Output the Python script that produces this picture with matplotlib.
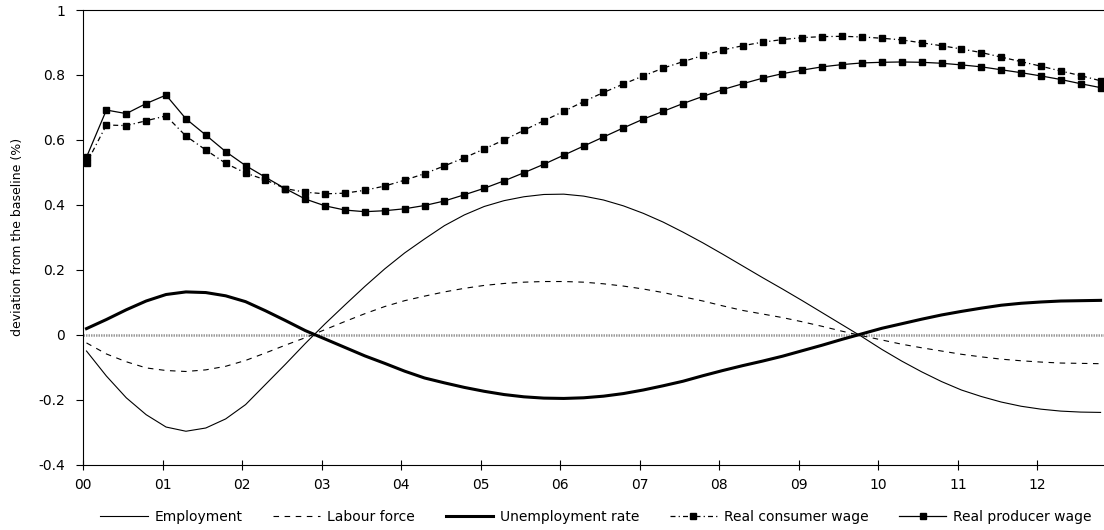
import numpy as np
import matplotlib
matplotlib.use("Agg")
import matplotlib.pyplot as plt

plt.rcParams['font.family'] = ['DejaVu Sans']

# ---- data (quarterly, 2000Q1 .. 2012Q4) ----
year_labels = ["00", "01", "02", "03", "04", "05", "06", "07", "08", "09", "10", "11", "12"]

employment = [-0.050, -0.127, -0.194, -0.246, -0.284, -0.297, -0.287, -0.259, -0.215, -0.153,
              -0.091, -0.027, 0.034, 0.092, 0.149, 0.203, 0.252, 0.295, 0.336, 0.369,
              0.395, 0.413, 0.425, 0.432, 0.433, 0.427, 0.415, 0.397, 0.374, 0.347,
              0.316, 0.283, 0.248, 0.212, 0.176, 0.141, 0.105, 0.068, 0.031, -0.006,
              -0.045, -0.081, -0.114, -0.144, -0.170, -0.190, -0.207, -0.220, -0.229, -0.235,
              -0.238, -0.239]

labour_force = [-0.025, -0.059, -0.083, -0.102, -0.110, -0.113, -0.108, -0.097, -0.079, -0.056,
                -0.032, -0.009, 0.016, 0.041, 0.065, 0.087, 0.105, 0.119, 0.132, 0.143,
                0.152, 0.158, 0.162, 0.164, 0.164, 0.162, 0.157, 0.150, 0.141, 0.130,
                0.117, 0.104, 0.089, 0.075, 0.064, 0.053, 0.040, 0.026, 0.011, -0.003,
                -0.016, -0.029, -0.040, -0.050, -0.060, -0.068, -0.075, -0.080, -0.084, -0.087,
                -0.088, -0.089]

unemployment = [0.019, 0.047, 0.077, 0.104, 0.124, 0.132, 0.130, 0.120, 0.102, 0.074,
                0.044, 0.013, -0.013, -0.039, -0.065, -0.088, -0.112, -0.133, -0.148, -0.162,
                -0.174, -0.184, -0.191, -0.195, -0.196, -0.194, -0.189, -0.181, -0.170, -0.157,
                -0.143, -0.126, -0.110, -0.095, -0.081, -0.066, -0.049, -0.032, -0.014, 0.003,
                0.020, 0.034, 0.048, 0.061, 0.072, 0.082, 0.091, 0.097, 0.101, 0.104,
                0.105, 0.106]

real_consumer_wage = [0.528, 0.646, 0.644, 0.659, 0.674, 0.612, 0.569, 0.528, 0.498, 0.477,
                      0.450, 0.439, 0.434, 0.436, 0.445, 0.458, 0.476, 0.496, 0.520, 0.545,
                      0.572, 0.600, 0.630, 0.659, 0.688, 0.718, 0.746, 0.772, 0.797, 0.821,
                      0.841, 0.860, 0.877, 0.890, 0.901, 0.909, 0.915, 0.918, 0.919, 0.917,
                      0.913, 0.908, 0.899, 0.890, 0.880, 0.869, 0.855, 0.841, 0.827, 0.812,
                      0.798, 0.782]

real_producer_wage = [0.547, 0.692, 0.681, 0.712, 0.738, 0.665, 0.615, 0.564, 0.521, 0.485,
                      0.450, 0.418, 0.397, 0.384, 0.379, 0.382, 0.388, 0.398, 0.412, 0.431,
                      0.451, 0.474, 0.499, 0.525, 0.553, 0.581, 0.609, 0.637, 0.664, 0.688,
                      0.712, 0.734, 0.755, 0.773, 0.790, 0.804, 0.815, 0.825, 0.832, 0.837,
                      0.839, 0.840, 0.839, 0.836, 0.831, 0.825, 0.816, 0.807, 0.797, 0.786,
                      0.773, 0.761]

series_names = ["Employment", "Labour force", "Unemployment rate",
                "Real consumer wage", "Real producer wage"]

y_ticks = [-0.4, -0.2, 0, 0.2, 0.4, 0.6, 0.8, 1.0]
y_tick_labels = ["-0.4", "-0.2", "0", "0.2", "0.4", "0.6", "0.8", "1"]

# ---- figure ----
W, H = 1104, 530
fig = plt.figure(figsize=(W / 100, H / 100), dpi=100)
ax = fig.add_axes([83 / W, 1 - 464.7 / H, (W - 83) / W, (464.7 - 10) / H])

t = np.arange(len(employment)) / 4.0

dash_consumer = (0, (4, 2.5, 1, 2.5))
ax.axhline(0, color="#9a9a9a", lw=1.8, ls=(0, (0.6, 0.4)), zorder=1)

l1, = ax.plot(t, employment, color="black", lw=0.8, zorder=3)
l2, = ax.plot(t, labour_force, color="black", lw=0.8, ls=(0, (5, 5)), zorder=3)
l3, = ax.plot(t, unemployment, color="black", lw=2.2, zorder=3)
l4, = ax.plot(t, real_consumer_wage, color="black", lw=0.9, ls=dash_consumer,
              marker="s", ms=4.6, mec="black", mfc="black", zorder=4)
l5, = ax.plot(t, real_producer_wage, color="black", lw=0.9,
              marker="s", ms=4.6, mec="black", mfc="black", zorder=4)

x_left = -3.5 / 79.52
x_right = (W - 86.7) / 79.52
ax.set_xlim(x_left, x_right)
ax.set_ylim(-0.4, 1.0)

ax.set_xticks(np.arange(len(year_labels)) + x_left)
ax.set_xticklabels(year_labels)
ax.set_yticks(y_ticks)
ax.set_yticklabels(y_tick_labels)

ax.tick_params(axis="x", direction="inout", length=7, width=0.8, pad=6, labelsize=10)
ax.tick_params(axis="y", direction="out", length=5, width=0.8, pad=8, labelsize=10)

for s in ["left", "bottom", "top"]:
    ax.spines[s].set_linewidth(0.8)
    ax.spines[s].set_color("black")
ax.spines["right"].set_visible(False)

ax.set_ylabel("deviation from the baseline (%)", fontsize=9)
ax.yaxis.set_label_coords((24 - 83) / (W - 83), 0.5)

fig.legend([l1, l2, l3, l4, l5], series_names, loc="center",
           bbox_to_anchor=(596 / W, 1 - 517 / H), ncol=5, frameon=False,
           fontsize=10, handlelength=3.4, handletextpad=0.5, columnspacing=2.2,
           numpoints=1, borderpad=0.2)

fig.savefig("out.png", dpi=100)
